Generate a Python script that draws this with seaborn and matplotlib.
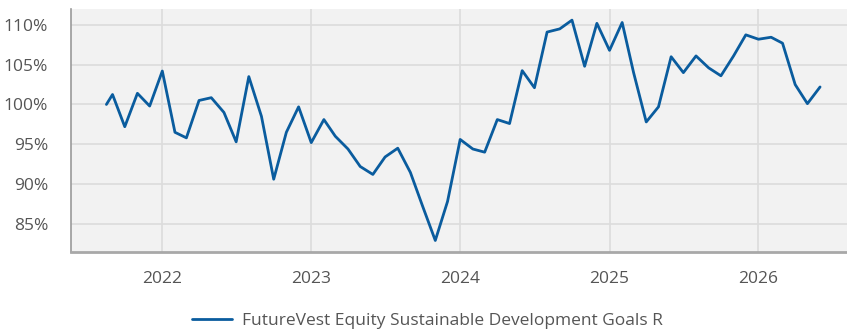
import pandas as pd
import numpy as np
import matplotlib
matplotlib.use("Agg")
import matplotlib.pyplot as plt
import matplotlib.dates as mdates
import seaborn as sns

series_name = "FutureVest Equity Sustainable Development Goals R"

dates = ["2021-08-17"] + [d.strftime("%Y-%m-%d") for d in pd.date_range("2021-09-01", "2026-06-01", freq="MS")]

values = [
    100.0, 101.25, 97.2, 101.4, 99.8,
    # 2022
    104.2, 96.5, 95.8, 100.5, 100.85, 99.0, 95.3, 103.5, 98.5, 90.6, 96.5, 99.7,
    # 2023
    95.2, 98.1, 96.0, 94.4, 92.2, 91.2, 93.4, 94.5, 91.45, 87.2, 82.9, 87.8,
    # 2024
    95.6, 94.4, 94.0, 98.1, 97.6, 104.25, 102.1, 109.1, 109.5, 110.6, 104.8, 110.2,
    # 2025
    106.8, 110.3, 104.0, 97.8, 99.7, 106.0, 104.0, 106.1, 104.6, 103.6, 106.1, 108.75,
    # 2026
    108.2, 108.45, 107.7, 102.5, 100.1, 102.2,
]

year_ticks = ["2022", "2023", "2024", "2025", "2026"]
pct_ticks = [85, 90, 95, 100, 105, 110]

df = pd.DataFrame({"date": pd.to_datetime(dates), "value": values, "series": series_name})

sns.set_theme(style="white")
plt.rcParams["font.family"] = ["Open Sans", "DejaVu Sans"]

line_color = "#0a5c9e"
text_color = "#555555"

fig = plt.figure(figsize=(8.47, 3.33), dpi=100)
ax = fig.add_axes([70.5 / 847, 1 - 252 / 333, 1 - 70.5 / 847, (252 - 9) / 333])
ax.set_facecolor("#f2f2f2")

sns.lineplot(data=df, x="date", y="value", hue="series", palette=[line_color],
             linewidth=2.0, ax=ax, legend=False)

ax.set_xlim(pd.Timestamp("2021-05-21"), pd.Timestamp("2026-08-06"))
ax.set_ylim(81.45, 112.0)

ax.set_yticks(pct_ticks)
ax.set_yticklabels([f"{v}%" for v in pct_ticks])
ax.set_xticks([pd.Timestamp(f"{y}-01-01") for y in year_ticks])
ax.set_xticklabels(year_ticks)

ax.grid(True, color="#dcdcdc", linewidth=1.2)
ax.set_axisbelow(True)
ax.tick_params(axis="both", length=0, labelsize=12.5, labelcolor=text_color)
ax.tick_params(axis="y", pad=16)
ax.tick_params(axis="x", pad=14)

ax.set_xlabel("")
ax.set_ylabel("")
for side in ["top", "right"]:
    ax.spines[side].set_visible(False)
ax.spines["left"].set_color("#9a9a9a")
ax.spines["left"].set_linewidth(1.2)
ax.spines["bottom"].set_color("#a8a8a8")
ax.spines["bottom"].set_linewidth(2.0)

handle = plt.Line2D([], [], color=line_color, linewidth=2.0)
fig.legend([handle], [series_name], loc="center", bbox_to_anchor=(0.505, 1 - 321 / 333),
           frameon=False, fontsize=12.5, labelcolor=text_color,
           handlelength=2.3, handletextpad=0.6)

fig.savefig("out.png", dpi=100, facecolor="white")
